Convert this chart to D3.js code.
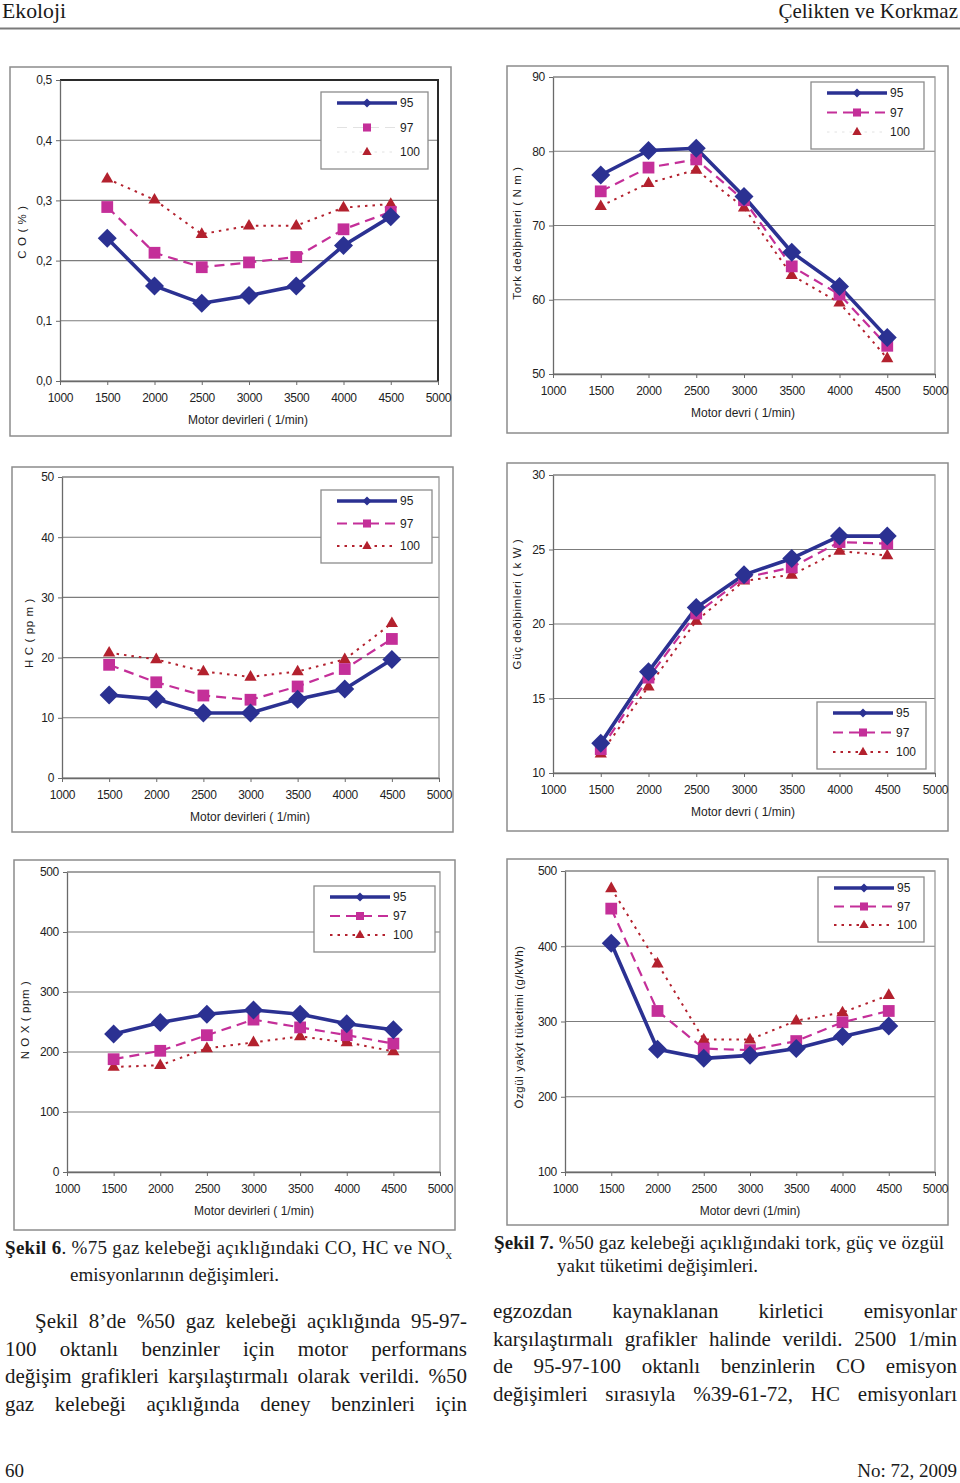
<!DOCTYPE html>
<html><head><meta charset="utf-8">
<script src="https://cdn.jsdelivr.net/npm/d3@7"></script>
<style>body{margin:0;background:#fff}svg{display:block}</style>
</head><body><svg id="page" width="960" height="1483"></svg>
<script>
// ---------- data ----------
const rpm = [1500, 2000, 2500, 3000, 3500, 4000, 4500];
const xTickValues = [1000, 1500, 2000, 2500, 3000, 3500, 4000, 4500, 5000];
const octanes = ["95", "97", "100"];

const co95  = [0.237, 0.158, 0.129, 0.142, 0.158, 0.225, 0.273];
const co97  = [0.289, 0.213, 0.189, 0.197, 0.206, 0.252, 0.281];
const co100 = [0.336, 0.301, 0.244, 0.258, 0.258, 0.288, 0.294];

const tork95  = [76.8, 80.1, 80.4, 73.9, 66.4, 61.8, 54.9];
const tork97  = [74.6, 77.8, 78.9, 73.4, 64.5, 60.7, 53.8];
const tork100 = [72.6, 75.7, 77.5, 72.4, 63.3, 59.6, 52.1];

const hc95  = [13.8, 13.1, 10.8, 10.8, 13.1, 14.8, 19.7];
const hc97  = [18.8, 15.9, 13.7, 13.0, 15.2, 18.1, 23.1];
const hc100 = [20.8, 19.7, 17.7, 16.8, 17.7, 19.7, 25.7];

const guc95  = [12.0, 16.8, 21.1, 23.3, 24.4, 25.9, 25.9];
const guc97  = [11.6, 16.4, 20.7, 23.1, 23.8, 25.5, 25.4];
const guc100 = [11.3, 15.8, 20.2, 22.9, 23.3, 24.9, 24.6];

const nox95  = [230, 249, 263, 270, 263, 247, 237];
const nox97  = [188, 202, 228, 254, 241, 228, 214];
const nox100 = [175, 178, 206, 216, 226, 216, 201];

const bsfc95  = [404, 263, 251, 255, 264, 280, 294];
const bsfc97  = [450, 314, 264, 262, 274, 299, 314];
const bsfc100 = [477, 377, 276, 276, 301, 312, 335];

const coTicks   = [0, 0.1, 0.2, 0.3, 0.4, 0.5];
const torkTicks = [50, 60, 70, 80, 90];
const hcTicks   = [0, 10, 20, 30, 40, 50];
const gucTicks  = [10, 15, 20, 25, 30];
const noxTicks  = [0, 100, 200, 300, 400, 500];
const bsfcTicks = [100, 200, 300, 400, 500];

// ---------- styles ----------
const seriesStyle = {
  "95":  {color: "#2b3192", width: 3.6, dash: null,  marker: "diamond"},
  "97":  {color: "#c42f99", width: 2.2, dash: "10,6", marker: "square"},
  "100": {color: "#b3212e", width: 2.0, dash: "2.5,5", marker: "triangle"}
};
function markerPath(type, s) {
  if (type === "diamond") return `M0,${-s}L${s},0L0,${s}L${-s},0Z`;
  if (type === "square") { const h = s * 0.62; return `M${-h},${-h}H${h}V${h}H${-h}Z`; }
  const w = s * 0.72, t = s * 0.8, b = s * 0.45;
  return `M0,${-t}L${w},${b}L${-w},${b}Z`;
}

const svg = d3.select("#page");
svg.append("rect").attr("width", 960).attr("height", 1483).attr("fill", "#fff");

const commaFmt = d => d.toFixed(1).replace(".", ",");
const intFmt = d3.format("d");

const charts = [
  {box:[10,67,451,436], plot:[60,80,438,381], yDomain:[0,0.5], yTicks:coTicks, fmt:commaFmt,
   series:[co95,co97,co100], ylabel:"C O ( % )", ylx:22, yly:232, xlabel:"Motor devirleri ( 1/min)", xlx:248,
   legend:[321,92,428,169], frame:"#2a2a2a", faint:["97","100"]},
  {box:[507,66,948,433], plot:[553,77,935,374], yDomain:[50,90], yTicks:torkTicks, fmt:intFmt,
   series:[tork95,tork97,tork100], ylabel:"Tork deðiþimleri ( N m )", ylx:517, yly:233, xlabel:"Motor devri ( 1/min)", xlx:743,
   legend:[811,82,924,149], frame:"#9a9a9a", faint:["100"]},
  {box:[12,467,453,832], plot:[62,477,439,778], yDomain:[0,50], yTicks:hcTicks, fmt:intFmt,
   series:[hc95,hc97,hc100], ylabel:"H C ( pp m )", ylx:29, yly:633, xlabel:"Motor devirleri ( 1/min)", xlx:250,
   legend:[321,490,432,563], frame:"#9a9a9a", faint:[]},
  {box:[507,463,948,831], plot:[553,475,935,773], yDomain:[10,30], yTicks:gucTicks, fmt:intFmt,
   series:[guc95,guc97,guc100], ylabel:"Güç deðiþimleri ( k W )", ylx:517, yly:604, xlabel:"Motor devri ( 1/min)", xlx:743,
   legend:[817,702,926,769], frame:"#9a9a9a", faint:[]},
  {box:[14,860,455,1230], plot:[67,872,440,1172], yDomain:[0,500], yTicks:noxTicks, fmt:intFmt,
   series:[nox95,nox97,nox100], ylabel:"N O X ( ppm )", ylx:25, yly:1020, xlabel:"Motor devirleri ( 1/min)", xlx:254,
   legend:[314,886,435,952], frame:"#9a9a9a", faint:[]},
  {box:[507,859,948,1225], plot:[565,871,935,1172], yDomain:[100,500], yTicks:bsfcTicks, fmt:intFmt,
   series:[bsfc95,bsfc97,bsfc100], ylabel:"Özgül yakýt tüketimi (g/kWh)", ylx:519, yly:1027, xlabel:"Motor devri (1/min)", xlx:750,
   legend:[818,877,924,942], frame:"#9a9a9a", faint:[]}
];

const sansFont = "'Liberation Sans', Arial, sans-serif";

charts.forEach(cfg => {
  const g = svg.append("g");
  const [bx0, by0, bx1, by1] = cfg.box;
  const [px0, py0, px1, py1] = cfg.plot;
  g.append("rect").attr("x", bx0).attr("y", by0).attr("width", bx1 - bx0).attr("height", by1 - by0)
    .attr("fill", "#fff").attr("stroke", "#8c8c8c").attr("stroke-width", 1.5);

  const x = d3.scaleLinear().domain([1000, 5000]).range([px0, px1]);
  const y = d3.scaleLinear().domain(cfg.yDomain).range([py1, py0]);

  // gridlines
  g.append("g").selectAll("line").data(cfg.yTicks).join("line")
    .attr("x1", px0).attr("x2", px1).attr("y1", d => y(d)).attr("y2", d => y(d))
    .attr("stroke", "#7c7c7c").attr("stroke-width", 1.1);

  // plot frame (top & right)
  g.append("path").attr("d", `M${px0},${py0}H${px1}V${py1}`).attr("fill", "none")
    .attr("stroke", cfg.frame).attr("stroke-width", cfg.frame === "#2a2a2a" ? 2 : 1.3);

  // axes
  const ya = g.append("g").attr("transform", `translate(${px0},0)`)
    .call(d3.axisLeft(y).tickValues(cfg.yTicks).tickFormat(cfg.fmt).tickSize(4).tickPadding(4).tickSizeOuter(0));
  const xa = g.append("g").attr("transform", `translate(0,${py1})`)
    .call(d3.axisBottom(x).tickValues(xTickValues).tickFormat(intFmt).tickSize(4).tickPadding(8).tickSizeOuter(0));
  [ya, xa].forEach(a => {
    a.select(".domain").attr("stroke", "#6a6a6a").attr("stroke-width", 1.3);
    a.selectAll(".tick line").attr("stroke", "#6a6a6a");
    a.selectAll("text").attr("font-family", sansFont).attr("font-size", 12).attr("fill", "#1e1e1e")
      .attr("letter-spacing", "-0.3");
  });

  // axis titles
  g.append("text").attr("x", cfg.xlx).attr("y", py1 + 43).attr("text-anchor", "middle")
    .attr("font-family", sansFont).attr("font-size", 12).attr("fill", "#1e1e1e").text(cfg.xlabel);
  g.append("text").attr("transform", `translate(${cfg.ylx},${cfg.yly}) rotate(-90)`)
    .attr("text-anchor", "middle").attr("dominant-baseline", "central")
    .attr("font-family", sansFont).attr("font-size", 11.5).attr("letter-spacing", "0.6")
    .attr("fill", "#1e1e1e").text(cfg.ylabel);

  // series
  const line = d3.line().x((d, i) => x(rpm[i])).y(d => y(d));
  const order = [2, 1, 0];
  order.forEach(k => {
    const key = octanes[k], st = seriesStyle[key], vals = cfg.series[k];
    g.append("path").datum(vals).attr("d", line).attr("fill", "none")
      .attr("stroke", st.color).attr("stroke-width", st.width)
      .attr("stroke-dasharray", st.dash).attr("stroke-linejoin", "round");
  });
  order.forEach(k => {
    const key = octanes[k], st = seriesStyle[key], vals = cfg.series[k];
    const size = key === "95" ? 9.5 : (key === "97" ? 9.5 : 8.5);
    g.append("g").selectAll("path").data(vals).join("path")
      .attr("transform", (d, i) => `translate(${x(rpm[i])},${y(d)})`)
      .attr("d", markerPath(st.marker, size)).attr("fill", st.color);
  });

  // legend
  const [lx0, ly0, lx1, ly1] = cfg.legend;
  g.append("rect").attr("x", lx0).attr("y", ly0).attr("width", lx1 - lx0).attr("height", ly1 - ly0)
    .attr("fill", "#fff").attr("stroke", "#8c8c8c").attr("stroke-width", 1.3);
  const step = (ly1 - ly0 - 28) / 2;
  octanes.forEach((key, i) => {
    const st = seriesStyle[key];
    const ly = ly0 + 11 + i * step;
    const faint = cfg.faint.includes(key);
    g.append("line").attr("x1", lx0 + 16).attr("x2", lx0 + 76).attr("y1", ly).attr("y2", ly)
      .attr("stroke", faint ? "#e2e2e2" : st.color).attr("stroke-width", faint ? 1 : st.width)
      .attr("stroke-dasharray", st.dash);
    g.append("path").attr("transform", `translate(${lx0 + 46},${ly})`)
      .attr("d", markerPath(st.marker, key === "95" ? 4.5 : 6.5)).attr("fill", st.color);
    g.append("text").attr("x", lx0 + 79).attr("y", ly).attr("dominant-baseline", "central")
      .attr("font-family", sansFont).attr("font-size", 12).attr("fill", "#1e1e1e").text(key);
  });
});

// ---------- page text ----------
const serif = "'Liberation Serif', 'DejaVu Serif', serif";
function txt(x, yb, s, size, opts = {}) {
  const t = svg.append("text").attr("x", x).attr("y", yb).attr("font-family", serif)
    .attr("font-size", size).attr("fill", "#1a1a1a").text(s);
  if (opts.anchor) t.attr("text-anchor", opts.anchor);
  if (opts.len) t.attr("textLength", opts.len).attr("lengthAdjust", "spacingAndGlyphs");
  return t;
}
txt(2, 18, "Ekoloji", 21, {len: 64});
txt(958, 18, "Çelikten ve Korkmaz", 21, {anchor: "end"});
svg.append("line").attr("x1", 0).attr("x2", 960).attr("y1", 28.5).attr("y2", 28.5)
  .attr("stroke", "#7a7a7a").attr("stroke-width", 2);

// captions
function caption(x, yb, bold, rest, sub, len) {
  const t = svg.append("text").attr("x", x).attr("y", yb).attr("font-family", serif)
    .attr("font-size", 19).attr("fill", "#1a1a1a");
  t.append("tspan").attr("font-weight", "bold").text(bold);
  t.append("tspan").text(rest);
  if (sub) t.append("tspan").attr("font-size", 13).attr("dy", 5).text(sub);
  if (len) t.attr("textLength", len).attr("lengthAdjust", "spacing");
}
caption(5, 1254, "Şekil 6", ". %75 gaz kelebeği açıklığındaki CO, HC ve NO", "x", 447);
txt(70, 1281, "emisyonlarının değişimleri.", 19);
caption(494, 1249, "Şekil 7.", " %50 gaz kelebeği açıklığındaki tork, güç ve özgül", null, 450);
txt(557, 1272, "yakıt tüketimi değişimleri.", 19);

// justified body lines
function justify(s, x0, x1, yb, size) {
  const words = s.split(" ");
  const t = svg.append("text").attr("y", yb).attr("font-family", serif)
    .attr("font-size", size).attr("fill", "#1a1a1a");
  const spans = words.map(w => t.append("tspan").text(w));
  const widths = spans.map(sp => sp.node().getComputedTextLength());
  const gap = (x1 - x0 - d3.sum(widths)) / (words.length - 1);
  let cx = x0;
  spans.forEach((sp, i) => { sp.attr("x", cx); cx += widths[i] + gap; });
}
const leftLines = [
  "Şekil 8’de %50 gaz kelebeği açıklığında 95-97-",
  "100 oktanlı benzinler için motor performans",
  "değişim grafikleri karşılaştırmalı olarak verildi. %50",
  "gaz kelebeği açıklığında deney benzinleri için"
];
const rightLines = [
  "egzozdan kaynaklanan kirletici emisyonlar",
  "karşılaştırmalı grafikler halinde verildi. 2500 1/min",
  "de 95-97-100 oktanlı benzinlerin CO emisyon",
  "değişimleri sırasıyla %39-61-72, HC emisyonları"
];
leftLines.forEach((s, i) => justify(s, i === 0 ? 35 : 5, 467, 1328 + i * 27.5, 21));
rightLines.forEach((s, i) => justify(s, 493, 957, 1318 + i * 27.5, 21));

txt(5, 1477, "60", 19);
txt(957, 1477, "No: 72, 2009", 19, {anchor: "end"});
</script>
</body></html>
